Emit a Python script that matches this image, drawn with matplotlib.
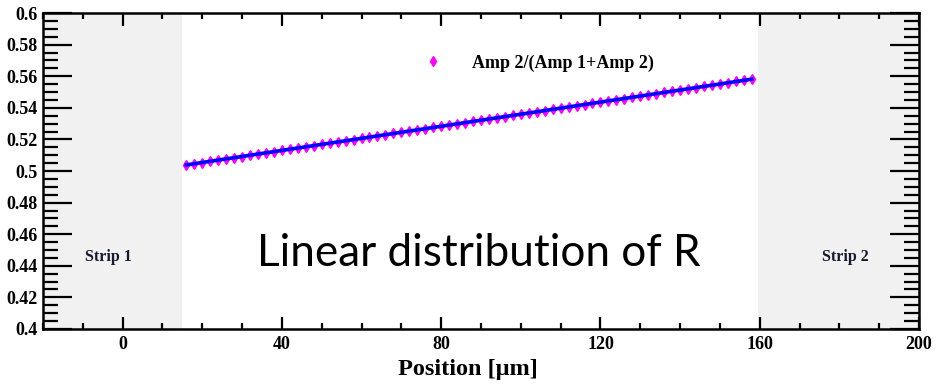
import numpy as np
import matplotlib.pyplot as plt
from matplotlib.ticker import MultipleLocator
from matplotlib.lines import Line2D

pos = [16, 18, 20, 22, 24, 26, 28, 30, 32, 34, 36, 38, 40, 42, 44, 46, 48, 50,
       52, 54, 56, 58, 60, 62, 64, 66, 68, 70, 72, 74, 76, 78, 80, 82, 84, 86,
       88, 90, 92, 94, 96, 98, 100, 102, 104, 106, 108, 110, 112, 114, 116, 118,
       120, 122, 124, 126, 128, 130, 132, 134, 136, 138, 140, 142, 144, 146,
       148, 150, 152, 154, 156, 158]
ratio = [0.5040, 0.5047, 0.5054, 0.5062, 0.5069, 0.5077, 0.5085, 0.5092,
         0.5100, 0.5108, 0.5115, 0.5123, 0.5131, 0.5138, 0.5146, 0.5153,
         0.5161, 0.5169, 0.5176, 0.5184, 0.5192, 0.5199, 0.5207, 0.5215,
         0.5222, 0.5230, 0.5238, 0.5245, 0.5253, 0.5261, 0.5268, 0.5276,
         0.5284, 0.5291, 0.5299, 0.5306, 0.5314, 0.5322, 0.5329, 0.5337,
         0.5345, 0.5352, 0.5360, 0.5368, 0.5375, 0.5383, 0.5391, 0.5398,
         0.5406, 0.5414, 0.5421, 0.5429, 0.5437, 0.5444, 0.5452, 0.5459,
         0.5467, 0.5475, 0.5482, 0.5490, 0.5498, 0.5505, 0.5513, 0.5521,
         0.5528, 0.5536, 0.5544, 0.5551, 0.5559, 0.5567, 0.5574, 0.5582]
strip1 = [-20, 15]
strip2 = [159.5, 200]

serif = 'Liberation Serif'

fig = plt.figure(figsize=(9.4, 3.85), dpi=100)
ax = fig.add_axes([0.0457, 0.1455, 0.9320, 0.8205])

ax.axvspan(strip1[0], strip1[1], color='#f1f1f1', lw=0, zorder=0)
ax.axvspan(strip2[0], strip2[1], color='#f1f1f1', lw=0, zorder=0)

ax.plot(pos, ratio, ls='none', marker='d', ms=5, color='#ff00ff',
        mec='#ff00ff', zorder=2)
p = np.polyfit(pos, ratio, 1)
xf = np.array([pos[0], pos[-1]])
ax.plot(xf, np.polyval(p, xf), color='#0000ff', lw=2.6, zorder=3)

ax.set_xlim(-20, 200)
ax.set_ylim(0.4, 0.6)
ax.xaxis.set_major_locator(MultipleLocator(40))
ax.xaxis.set_minor_locator(MultipleLocator(10))
ax.yaxis.set_major_locator(MultipleLocator(0.02))
ax.yaxis.set_minor_locator(MultipleLocator(0.005))
ax.yaxis.set_major_formatter(plt.FuncFormatter(lambda v, _: ('%.2f' % v).rstrip('0')))

ax.tick_params(axis='both', which='both', direction='in', top=True, right=True,
               width=1.6, color='black')
ax.tick_params(axis='x', which='major', length=9, pad=5)
ax.tick_params(axis='x', which='minor', length=4.5)
ax.tick_params(axis='y', which='major', length=21, pad=4)
ax.tick_params(axis='y', which='minor', length=11)
for lab in ax.get_xticklabels() + ax.get_yticklabels():
    lab.set_fontfamily(serif)
    lab.set_fontweight('bold')
    lab.set_fontsize(13)
for s in ax.spines.values():
    s.set_linewidth(1.8)

ax.set_xlabel('Position [\u03bcm]', fontfamily=serif, fontweight='bold',
              fontsize=17.5, labelpad=2)
ax.xaxis.set_label_coords(0.485, -0.095)

ax.text(-3.5, 0.4455, 'Strip 1', fontfamily=serif, fontweight='bold',
        fontsize=11.5, color='#1a1a2e', ha='center', va='center')
ax.text(181.5, 0.4455, 'Strip 2', fontfamily=serif, fontweight='bold',
        fontsize=11.5, color='#1a1a2e', ha='center', va='center')
ax.text(89.5, 0.4475, 'Linear distribution of R', fontfamily='Lato',
        fontsize=31.8, color='black', ha='center', va='center')

h = Line2D([], [], ls='none', marker='d', ms=5, color='#ff00ff')
ax.legend([h], ['Amp 2/(Amp 1+Amp 2)'], loc='center left',
          bbox_to_anchor=(0.414, 0.842), frameon=False, handlelength=1.2,
          handletextpad=1.6, prop={'family': serif, 'weight': 'bold', 'size': 13})

fig.savefig('out.png', dpi=100)
